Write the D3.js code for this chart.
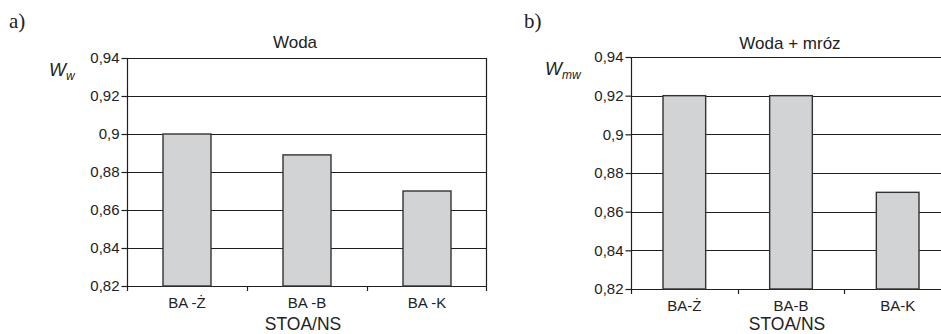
<!DOCTYPE html>
<html>
<head>
<meta charset="utf-8">
<script src="https://cdn.jsdelivr.net/npm/d3@7"></script>
<style>
  body { margin: 0; background: #fff; }
  svg { display: block; }
  text { font-family: "Liberation Sans", Arial, sans-serif; fill: #222; }
</style>
</head>
<body>
<svg id="chart" width="941" height="334"></svg>
<script>
'use strict';

// data
const yTicks = [0.82, 0.84, 0.86, 0.88, 0.90, 0.92, 0.94];
const categoriesA = ["BA -Ż", "BA -B", "BA -K"];
const valuesA = [0.90, 0.889, 0.87];
const categoriesB = ["BA-Ż", "BA-B", "BA-K"];
const valuesB = [0.92, 0.92, 0.87];

const BAR_FILL = "#d2d3d5";
const LINE = "#1e1e1e";

var svg = d3.select("#chart");

var fmt = function (v) {
    return d3.format(".2~f")(v).replace(".", ",");
};

drawPanel({
    letter: "a)", letterX: 9, letterY: 28,
    title: "Woda", titleX: 295, titleY: 48,
    yLabel: "W", ySub: "w", yLabelX: 49, yLabelY: 76,
    left: 127, right: 487, top: 58, bottom: 286,
    categories: categoriesA, values: valuesA
});

drawPanel({
    letter: "b)", letterX: 524, letterY: 28,
    title: "Woda + mróz", titleX: 790, titleY: 49,
    yLabel: "W", ySub: "mw", yLabelX: 545, yLabelY: 75,
    left: 631, right: 951, top: 57, bottom: 289,
    categories: categoriesB, values: valuesB
});

function drawPanel(cfg) {
    var g = svg.append("g");

    var x = d3.scaleBand()
        .domain(cfg.categories)
        .range([cfg.left, cfg.right])
        .paddingInner(0.6)
        .paddingOuter(0.3);

    // full-width bands for tick positions and labels
    var band = d3.scaleBand()
        .domain(cfg.categories)
        .range([cfg.left, cfg.right]);

    var y = d3.scaleLinear()
        .domain([0.82, 0.94])
        .range([cfg.bottom, cfg.top]);

    // gridlines
    g.selectAll(".grid")
        .data(yTicks)
        .enter()
        .append("line")
        .attr("x1", cfg.left)
        .attr("x2", cfg.right)
        .attr("y1", function (d) { return Math.round(y(d)) + 0.5; })
        .attr("y2", function (d) { return Math.round(y(d)) + 0.5; })
        .attr("stroke", LINE)
        .attr("stroke-width", 1.2);

    // right border
    g.append("line")
        .attr("x1", cfg.right - 0.5).attr("x2", cfg.right - 0.5)
        .attr("y1", cfg.top).attr("y2", cfg.bottom + 5)
        .attr("stroke", LINE).attr("stroke-width", 1.2);

    // bars
    g.selectAll(".bar")
        .data(cfg.values)
        .enter()
        .append("rect")
        .attr("x", function (d, i) { return x(cfg.categories[i]); })
        .attr("width", x.bandwidth())
        .attr("y", function (d) { return y(d); })
        .attr("height", function (d) { return cfg.bottom - y(d); })
        .attr("fill", BAR_FILL)
        .attr("stroke", "#333")
        .attr("stroke-width", 1.4);

    // y axis
    var yAxis = g.append("g")
        .attr("transform", "translate(" + (cfg.left + 0.5) + ",0)")
        .call(d3.axisLeft(y).tickValues(yTicks).tickFormat(fmt).tickSize(6).tickPadding(2));
    yAxis.select(".domain").remove();
    yAxis.append("line")
        .attr("y1", cfg.top).attr("y2", cfg.bottom + 5)
        .attr("stroke", LINE).attr("stroke-width", 1.2);
    yAxis.selectAll(".tick line").attr("stroke", LINE).attr("stroke-width", 1.2);
    yAxis.selectAll(".tick text")
        .style("font-family", "'Liberation Sans', Arial, sans-serif")
        .style("font-size", "15px")
        .attr("fill", "#222");

    // x axis: ticks at band boundaries
    var bounds = cfg.categories.slice(1).map(function (c) { return band(c); });
    g.selectAll(".xtick")
        .data(bounds)
        .enter()
        .append("line")
        .attr("x1", function (d) { return Math.round(d) + 0.5; })
        .attr("x2", function (d) { return Math.round(d) + 0.5; })
        .attr("y1", cfg.bottom)
        .attr("y2", cfg.bottom + 5)
        .attr("stroke", LINE)
        .attr("stroke-width", 1.2);

    g.selectAll(".xlabel")
        .data(cfg.categories)
        .enter()
        .append("text")
        .attr("x", function (d) { return band(d) + band.bandwidth() / 2; })
        .attr("y", cfg.bottom + 22)
        .attr("text-anchor", "middle")
        .style("font-size", "15px")
        .text(function (d) { return d; });

    g.append("text")
        .attr("x", (cfg.left + cfg.right) / 2 - 4)
        .attr("y", 330)
        .attr("text-anchor", "middle")
        .style("font-size", "17.5px")
        .text("STOA/NS");

    // title
    g.append("text")
        .attr("x", cfg.titleX)
        .attr("y", cfg.titleY)
        .attr("text-anchor", "middle")
        .style("font-size", "17px")
        .text(cfg.title);

    // y label with subscript
    var yl = g.append("text")
        .attr("x", cfg.yLabelX)
        .attr("y", cfg.yLabelY)
        .style("font-size", "18px")
        .style("font-style", "italic");
    yl.append("tspan").text(cfg.yLabel);
    yl.append("tspan")
        .attr("dy", 4)
        .style("font-size", "12px")
        .text(cfg.ySub);

    // panel letter
    g.append("text")
        .attr("x", cfg.letterX)
        .attr("y", cfg.letterY)
        .style("font-family", "'Liberation Serif', 'Times New Roman', serif")
        .style("font-size", "21px")
        .text(cfg.letter);
}
</script>
</body>
</html>
